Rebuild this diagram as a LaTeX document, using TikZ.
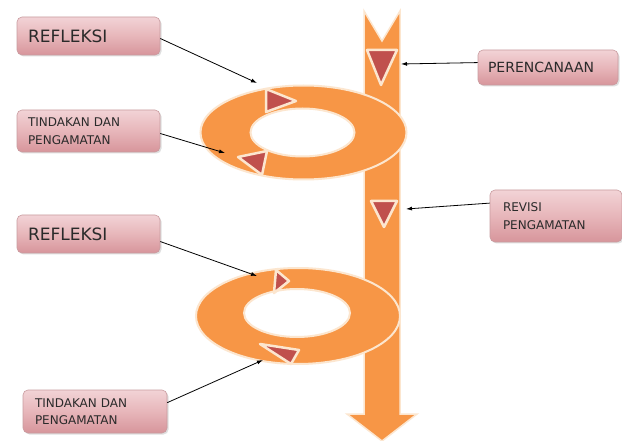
\documentclass[tikz,border=0pt]{standalone}
\usepackage{fontspec}
\setmainfont{DejaVu Sans}
\usetikzlibrary{arrows.meta,shadows}
\definecolor{ringorange}{HTML}{F79646}
\definecolor{rimcream}{HTML}{FCE6CF}
\definecolor{markred}{HTML}{C0504D}
\definecolor{boxtop}{HTML}{F2D3D6}
\definecolor{boxmid}{HTML}{E7B6BA}
\definecolor{boxbottom}{HTML}{D7959B}
\definecolor{boxedge}{HTML}{C99CA0}
\definecolor{labelgray}{HTML}{2A2A2A}

\begin{document}
\begin{tikzpicture}[x=1pt,y=-1pt,
  labelbox/.style={rounded corners=5pt, draw=boxedge, line width=0.6pt,
    top color=boxtop, bottom color=boxbottom, middle color=boxmid,
    drop shadow={opacity=0.25,shadow xshift=1.5pt,shadow yshift=-1.5pt},
    align=left, inner ysep=0pt, text=labelgray},
  bigtext/.style={font=\fontsize{17}{20}\selectfont},
  smalltext/.style={font=\fontsize{12}{17.5}\selectfont},
  ring/.style={fill=ringorange, draw=rimcream, line width=2pt, even odd rule},
  marker/.style={fill=markred, draw=rimcream, line width=2.5pt, line join=round},
  pointer/.style={-{Latex[length=6pt,width=4pt]}, line width=0.8pt, black}]
  \fill[white] (0,0) rectangle (622,441);
  \useasboundingbox (0,0) rectangle (622,441);

  \filldraw[fill=ringorange, draw=rimcream, line width=1.5pt]
    (364,11) -- (382,41) -- (400,11) -- (400,414) -- (417,414)
    -- (382,441) -- (347,414) -- (364,414) -- cycle;

  \path[ring] (303.5,132.5) ellipse [x radius=103pt, y radius=47pt]
    (302.5,132.5) ellipse [x radius=52pt, y radius=24pt];
  \path[ring] (298,316) ellipse [x radius=102pt, y radius=48pt]
    (297,313) ellipse [x radius=53pt, y radius=24pt];

  \filldraw[marker] (367,50) -- (397,50) -- (381,85) -- cycle;
  \filldraw[marker] (371,201) -- (397,201) -- (384,227) -- cycle;
  \filldraw[marker] (266,89) -- (266,112) -- (296,101) -- cycle;
  \filldraw[marker] (238,157) -- (267,151) -- (262,175) -- cycle;
  \filldraw[marker] (276,270) -- (274,293) -- (289,281) -- cycle;
  \filldraw[marker] (260,344) -- (299,350) -- (291,364) -- cycle;

  \node[labelbox, bigtext, text width=121pt, inner xsep=11pt, minimum height=38pt]
    (refleksiA) at (88.5,36) {REFLEKSI};
  \node[labelbox, smalltext, text width=121pt, inner xsep=11pt, minimum height=42pt]
    (tindakanA) at (88.5,131) {TINDAKAN DAN\\PENGAMATAN};
  \node[labelbox, smalltext, font=\fontsize{14}{17}\selectfont, text width=120pt,
    inner xsep=10pt, minimum height=35pt]
    (perencanaan) at (548,67.5) {PERENCANAAN};
  \node[labelbox, smalltext, text width=106pt, inner xsep=13pt, minimum height=52pt]
    (revisi) at (556,216) {REVISI\\PENGAMATAN};
  \node[labelbox, bigtext, text width=121pt, inner xsep=11pt, minimum height=38pt]
    (refleksiB) at (88.5,234) {REFLEKSI};
  \node[labelbox, smalltext, text width=120pt, inner xsep=12pt, minimum height=43pt]
    (tindakanB) at (95,411.5) {TINDAKAN DAN\\PENGAMATAN};

  \coordinate (ringAtop) at (257,83);
  \coordinate (ringAleft) at (225,153);
  \coordinate (shaftTop) at (401,64);
  \coordinate (shaftMid) at (406,209);
  \coordinate (ringBtop) at (257,276);
  \coordinate (ringBbottom) at (263,360);

  \draw[pointer] (refleksiA.-2) -- (ringAtop);
  \draw[pointer] (tindakanA.-2) -- (ringAleft);
  \draw[pointer] (perencanaan.176) -- (shaftTop);
  \draw[pointer] (revisi.169) -- (shaftMid);
  \draw[pointer] (refleksiB.-6) -- (ringBtop);
  \draw[pointer] (tindakanB.7) -- (ringBbottom);
\end{tikzpicture}
\end{document}
